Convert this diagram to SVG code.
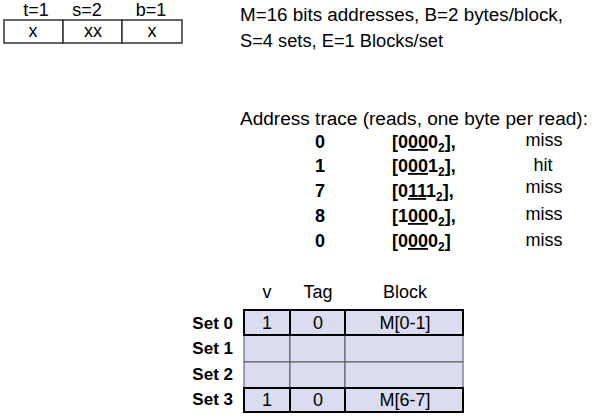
<svg xmlns="http://www.w3.org/2000/svg" width="592" height="417" viewBox="0 0 592 417">
<style>
text{font-family:"Liberation Sans","Open Sans",sans-serif;font-size:18px;fill:#000}
.c{text-anchor:middle}
.r{text-anchor:end}
.b{font-weight:bold}
.s{font-size:17px}
.u{text-decoration:underline}
.cell{fill:#dcdcf0;stroke:#000;stroke-width:2}
.cellg{fill:#dcdcf0;stroke:#555;stroke-width:1}
.box{fill:#fff;stroke:#333;stroke-width:1.5}
</style>
<rect width="592" height="417" fill="#fff"/>
<g id="addr-fields">
<text class="c" x="36" y="16">t=1</text>
<text class="c" x="87" y="16">s=2</text>
<text class="c" x="151" y="16">b=1</text>
<rect class="box" x="4" y="20" width="59" height="23"/>
<rect class="box" x="63" y="20" width="59" height="23"/>
<rect class="box" x="122" y="20" width="60" height="23"/>
<text class="c" x="33" y="37">x</text>
<text class="c" x="93" y="37">xx</text>
<text class="c" x="152" y="37">x</text>
</g>
<g id="params">
<text x="240" y="21" textLength="323" lengthAdjust="spacingAndGlyphs">M=16 bits addresses, B=2 bytes/block,</text>
<text x="240" y="47" textLength="203" lengthAdjust="spacingAndGlyphs">S=4 sets, E=1 Blocks/set</text>
</g>
<g id="trace">
<text x="240" y="125" textLength="348" lengthAdjust="spacingAndGlyphs">Address trace (reads, one byte per read):</text>
<text class="c b" x="320" y="148">0</text>
<text class="c b" x="320" y="172">1</text>
<text class="c b" x="320" y="197">7</text>
<text class="c b" x="320" y="222">8</text>
<text class="c b" x="320" y="247">0</text>
<text class="b" x="392" y="148">[0<tspan class="u">00</tspan>0<tspan font-size="12" dy="4">2</tspan><tspan dy="-4">],</tspan></text>
<text class="b" x="392" y="172">[0<tspan class="u">00</tspan>1<tspan font-size="12" dy="4">2</tspan><tspan dy="-4">],</tspan></text>
<text class="b" x="392" y="197">[0<tspan class="u">11</tspan>1<tspan font-size="12" dy="4">2</tspan><tspan dy="-4">],</tspan></text>
<text class="b" x="392" y="222">[1<tspan class="u">00</tspan>0<tspan font-size="12" dy="4">2</tspan><tspan dy="-4">],</tspan></text>
<text class="b" x="392" y="247">[0<tspan class="u">00</tspan>0<tspan font-size="12" dy="4">2</tspan><tspan dy="-4">]</tspan></text>
<text class="c" x="544" y="146">miss</text>
<text class="c" x="543" y="171">hit</text>
<text class="c" x="544" y="193">miss</text>
<text class="c" x="544" y="220">miss</text>
<text class="c" x="544" y="246">miss</text>
</g>
<g id="cache">
<text class="c" x="267" y="298">v</text>
<text class="c" x="318" y="298">Tag</text>
<text class="c" x="405" y="298">Block</text>
<text class="r b s" x="233" y="329">Set 0</text>
<text class="r b s" x="233" y="354">Set 1</text>
<text class="r b s" x="233" y="380">Set 2</text>
<text class="r b s" x="233" y="405">Set 3</text>
<rect class="cellg" x="244" y="335" width="46" height="27"/>
<rect class="cellg" x="290" y="335" width="55" height="27"/>
<rect class="cellg" x="345" y="335" width="118" height="27"/>
<rect class="cellg" x="244" y="362" width="46" height="26"/>
<rect class="cellg" x="290" y="362" width="55" height="26"/>
<rect class="cellg" x="345" y="362" width="118" height="26"/>
<rect class="cell" x="244" y="310" width="46" height="25"/>
<rect class="cell" x="290" y="310" width="55" height="25"/>
<rect class="cell" x="345" y="310" width="118" height="25"/>
<rect class="cell" x="244" y="388" width="46" height="24"/>
<rect class="cell" x="290" y="388" width="55" height="24"/>
<rect class="cell" x="345" y="388" width="118" height="24"/>
<text class="c" x="267" y="329">1</text>
<text class="c" x="318" y="329">0</text>
<text class="c" x="405" y="329">M[0-1]</text>
<text class="c" x="267" y="406">1</text>
<text class="c" x="318" y="406">0</text>
<text class="c" x="405" y="406">M[6-7]</text>
</g>
</svg>
